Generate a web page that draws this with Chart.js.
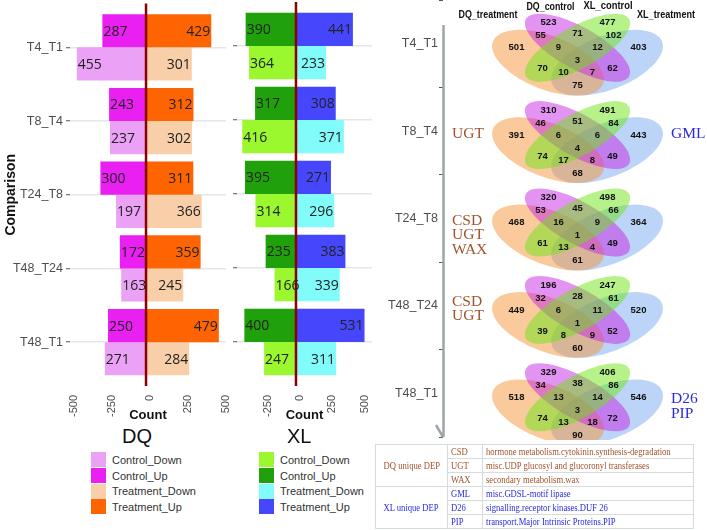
<!DOCTYPE html>
<html>
<head>
<meta charset="utf-8">
<script src="https://cdn.jsdelivr.net/npm/chart.js@4.4.0/dist/chart.umd.min.js"></script>
<style>
  body { margin: 0; width: 707px; height: 530px; position: relative; background: #fff; overflow: hidden; font-family: 'Liberation Sans', Arial, sans-serif; }
  canvas { position: absolute; top: 0; }
  #dq { left: 0; }
  #xl { left: 228px; }
  #venn { left: 380px; }
  .ltitle { position: absolute; top: 425px; font-size: 20px; line-height: 22px; color: #111; }
  .legend { position: absolute; top: 452px; }
  .legend .row { height: 15.7px; display: flex; align-items: center; font-size: 11px; color: #333; }
  .legend .sw { width: 15px; height: 15px; margin-right: 6px; }
  #deps { position: absolute; left: 375px; top: 444px; width: 318px; border-collapse: collapse; table-layout: fixed; font-family: 'Liberation Serif', serif; font-size: 10px; }
  #deps td { border: 1px solid #d6dbdb; padding: 0 3px; height: 13px; line-height: 12px; white-space: nowrap; overflow: hidden; }
  #deps td.grp { text-align: center; padding: 0; }
  #deps .sq { display: inline-block; transform: scaleX(0.86); transform-origin: left center; }
  #deps td.grp .sq { transform-origin: center center; }
</style>
</head>
<body>
<canvas id="dq" width="240" height="425"></canvas>
<canvas id="xl" width="152" height="425"></canvas>
<canvas id="venn" width="327" height="440"></canvas>
<div class="ltitle" style="left:122px">DQ</div>
<div class="ltitle" style="left:287px">XL</div>
<div class="legend" id="dqLegend" style="left:91px"></div>
<div class="legend" id="xlLegend" style="left:259px"></div>
<table id="deps"></table>
<script>
// differentially expressed counts per comparison
const comparisons = ['T4_T1', 'T8_T4', 'T24_T8', 'T48_T24', 'T48_T1'];
const dqControlUp = [287, 243, 300, 172, 250];
const dqTreatmentUp = [429, 312, 311, 359, 479];
const dqControlDown = [455, 237, 197, 163, 271];
const dqTreatmentDown = [301, 302, 366, 245, 284];
const xlControlUp = [390, 317, 395, 235, 400];
const xlTreatmentUp = [441, 308, 271, 383, 531];
const xlControlDown = [364, 416, 314, 166, 247];
const xlTreatmentDown = [233, 371, 296, 339, 311];
const countTicks = [-500, -250, 0, 250, 500];
const legendLabels = ['Control_Down', 'Control_Up', 'Treatment_Down', 'Treatment_Up'];

// venn regions: A=DQ_treatment B=DQ_control C=XL_control D=XL_treatment
const vennSets = ['DQ_treatment', 'DQ_control', 'XL_control', 'XL_treatment'];
const vennRegions = ['A', 'B', 'C', 'D', 'AB', 'BC', 'CD', 'AD', 'ABC', 'BCD', 'ABCD', 'AC', 'BD', 'ACD', 'ABD'];
const venn_T4_T1 = [501, 523, 477, 403, 55, 71, 102, 75, 9, 12, 3, 70, 62, 10, 7];
const venn_T8_T4 = [391, 310, 491, 443, 46, 51, 84, 68, 6, 6, 4, 74, 49, 17, 8];
const venn_T24_T8 = [468, 320, 498, 364, 53, 45, 66, 61, 16, 9, 1, 61, 49, 13, 4];
const venn_T48_T24 = [449, 196, 247, 520, 32, 28, 61, 60, 6, 11, 1, 39, 52, 8, 9];
const venn_T48_T1 = [518, 329, 406, 546, 34, 38, 86, 90, 13, 14, 3, 74, 72, 13, 18];
const vennCounts = [venn_T4_T1, venn_T8_T4, venn_T24_T8, venn_T48_T24, venn_T48_T1];

const dqUniqueByComparison = [[], ['UGT'], ['CSD', 'UGT', 'WAX'], ['CSD', 'UGT'], []];
const xlUniqueByComparison = [[], ['GML'], [], [], ['D26', 'PIP']];
const dqUnique = ['CSD', 'UGT', 'WAX'];
const dqUniqueDesc = ['hormone metabolism.cytokinin.synthesis-degradation', 'misc.UDP glucosyl and glucoronyl transferases', 'secondary metabolism.wax'];
const xlUnique = ['GML', 'D26', 'PIP'];
const xlUniqueDesc = ['misc.GDSL-motif lipase', 'signalling.receptor kinases.DUF 26', 'transport.Major Intrinsic Proteins.PIP'];

const dqColors = { cDown: '#eba2f6', cUp: '#ea1ff1', tDown: '#f9cfa9', tUp: '#fe6502' };
const xlColors = { cDown: '#9bf72e', cUp: '#20a00a', tDown: '#82fbfb', tUp: '#4646fd' };
const brown = '#a0522d';
const blue = '#2a2ae0';

const zeroLine = {
  id: 'zeroLine',
  afterDatasetsDraw(chart) {
    const { ctx, chartArea, scales } = chart;
    const x = scales.x.getPixelForValue(0);
    ctx.save();
    ctx.strokeStyle = '#8b0000';
    ctx.lineWidth = 2.5;
    ctx.beginPath();
    ctx.moveTo(x, chartArea.top - 7);
    ctx.lineTo(x, chartArea.bottom + 7);
    ctx.stroke();
    ctx.restore();
  }
};

const barLabels = {
  id: 'barLabels',
  afterDatasetsDraw(chart) {
    const ctx = chart.ctx;
    ctx.save();
    ctx.font = '14px "Open Sans"';
    ctx.fillStyle = '#222';
    ctx.textBaseline = 'middle';
    chart.data.datasets.forEach((ds, i) => {
      chart.getDatasetMeta(i).data.forEach((bar, j) => {
        const v = ds.data[j];
        ctx.textAlign = v < 0 ? 'left' : 'right';
        ctx.fillText(Math.abs(v), bar.x + (v < 0 ? 1 : -1), bar.y + 1);
      });
    });
    ctx.restore();
  }
};

function divergingChart(id, c, cUp, tUp, cDown, tDown, xMin, xMax, first) {
  return new Chart(document.getElementById(id), {
    type: 'bar',
    data: {
      labels: comparisons,
      datasets: [
        { label: 'Control_Up', data: cUp.map(v => -v), backgroundColor: c.cUp, stack: 'up' },
        { label: 'Treatment_Up', data: tUp, backgroundColor: c.tUp, stack: 'up' },
        { label: 'Control_Down', data: cDown.map(v => -v), backgroundColor: c.cDown, stack: 'down' },
        { label: 'Treatment_Down', data: tDown, backgroundColor: c.tDown, stack: 'down' }
      ]
    },
    options: {
      indexAxis: 'y',
      responsive: false,
      animation: false,
      layout: { padding: { top: 9, right: first ? 14 : 8, left: 0, bottom: 0 } },
      datasets: { bar: { barPercentage: 1, categoryPercentage: 0.9 } },
      plugins: { legend: { display: false }, tooltip: { enabled: false } },
      scales: {
        x: {
          stacked: true,
          min: xMin,
          max: xMax,
          afterBuildTicks: s => { s.ticks = countTicks.filter(v => v >= s.min && v <= s.max).map(v => ({ value: v })); },
          afterFit: s => { s.height = 46; s.paddingLeft = 0; s.paddingRight = 0; },
          grid: { display: false },
          border: { display: false },
          ticks: { minRotation: 90, maxRotation: 90, padding: 8, labelOffset: 4,
                   color: '#4d4d4d', font: { family: 'Liberation Sans', size: 11 } },
          title: { display: true, text: 'Count', color: '#111', padding: { top: 0, bottom: 2 },
                   font: { family: 'Liberation Sans', size: 13, weight: 'bold' } }
        },
        y: {
          stacked: true,
          afterFit: s => { s.width = first ? 70 : 9; },
          grid: { offset: false, color: '#e3e7e7', lineWidth: 1.5, tickLength: 4, tickColor: '#555', tickWidth: 1 },
          border: { display: false },
          ticks: { display: first, padding: 3, color: '#4d4d4d', font: { family: 'Liberation Sans', size: 12.5 } },
          title: { display: first, text: 'Comparison', color: '#111', padding: { top: 3, bottom: 0 },
                   font: { family: 'Liberation Sans', size: 14, weight: 'bold' } }
        }
      }
    },
    plugins: [zeroLine, barLabels]
  });
}

divergingChart('dq', dqColors, dqControlUp, dqTreatmentUp, dqControlDown, dqTreatmentDown, -500, 526, true);
divergingChart('xl', xlColors, xlControlUp, xlTreatmentUp, xlControlDown, xlTreatmentDown, -457, 589, false);

// venn layout, relative to the centre of each diagram
const ellipses = [
  { dx: 29.5, dy: 2, rx: 59, ry: 27, rot: -21, fill: 'rgba(120,170,240,0.5)' },
  { dx: -29.5, dy: 2, rx: 59, ry: 27, rot: 21, fill: 'rgba(245,150,60,0.5)' },
  { dx: 0, dy: -13, rx: 59, ry: 21, rot: 29, fill: 'rgba(200,40,230,0.5)' },
  { dx: 0, dy: -13, rx: 59, ry: 21, rot: -29, fill: 'rgba(110,230,20,0.5)' }
];
const regionPos = {
  A: [-61, -13], B: [-29, -38], C: [30, -38], D: [61, -13],
  AB: [-37, -25], BC: [0, -27], CD: [36, -25], AD: [0, 25],
  ABC: [-19, -13], BCD: [20, -13], ABCD: [0, 0],
  AC: [-35, 8], BD: [35, 8], ACD: [-14, 12], ABD: [15, 12]
};
const setTitlePos = [[-89.5, -46, 59], [-27, -54, 48], [30.5, -55, 49], [88.5, -46, 58]];

const vennPlugin = {
  id: 'venn',
  afterDraw(chart) {
    const { ctx, chartArea, scales } = chart;
    const cx = chartArea.left + 134.5;
    ctx.save();
    // axis line with arrow
    ctx.strokeStyle = '#9ea5a8';
    ctx.lineWidth = 2.5;
    ctx.beginPath();
    ctx.moveTo(chartArea.left + 0.5, 25);
    ctx.lineTo(chartArea.left + 0.5, chartArea.bottom);
    ctx.moveTo(chartArea.left - 7, chartArea.bottom - 12);
    ctx.lineTo(chartArea.left, chartArea.bottom);
    ctx.stroke();

    comparisons.forEach((name, i) => {
      const tick = scales.y.getPixelForValue(i);
      const cy = tick + 17;
      ellipses.forEach(e => {
        ctx.fillStyle = e.fill;
        ctx.beginPath();
        ctx.ellipse(cx + e.dx, cy + e.dy, e.rx, e.ry, e.rot * Math.PI / 180, 0, Math.PI * 2);
        ctx.fill();
      });
      ctx.fillStyle = '#111';
      ctx.font = 'bold 9.5px "Liberation Sans"';
      ctx.textAlign = 'center';
      ctx.textBaseline = 'middle';
      vennRegions.forEach((r, k) => {
        const p = regionPos[r];
        ctx.fillText(vennCounts[i][k], cx + p[0], cy + p[1]);
      });
      if (i === 0) {
        ctx.font = 'bold 11px "Liberation Sans"';
        vennSets.forEach((s, k) => {
          const p = setTitlePos[k];
          ctx.fillText(s, cx + p[0], cy + p[1], p[2]);
        });
      }
      // unique DEP annotations
      ctx.font = '15.5px "Liberation Serif"';
      ctx.textAlign = 'left';
      const dq = dqUniqueByComparison[i];
      const dqTop = tick + (dq.length === 3 ? 2 : dq.length === 2 ? -4 : 3);
      ctx.fillStyle = brown;
      dq.forEach((t, k) => ctx.fillText(t, chartArea.left + 9, dqTop + k * 14.5));
      const xl = xlUniqueByComparison[i];
      const xlTop = tick + (xl.length === 2 ? 6 : 3);
      ctx.fillStyle = blue;
      xl.forEach((t, k) => ctx.fillText(t, chartArea.left + 228, xlTop + k * 14.5));
    });
    ctx.restore();
  }
};

new Chart(document.getElementById('venn'), {
  type: 'bar',
  data: { labels: comparisons, datasets: [{ data: [] }] },
  options: {
    indexAxis: 'y',
    responsive: false,
    animation: false,
    layout: { padding: { top: 0, bottom: 3, left: 0, right: 0 } },
    plugins: { legend: { display: false }, tooltip: { enabled: false } },
    scales: {
      x: { display: false, min: 0, max: 1 },
      y: {
        afterFit: s => { s.width = 63; s.paddingTop = 0; s.paddingBottom = 0; },
        grid: { drawOnChartArea: false, tickLength: 4, tickColor: '#555' },
        border: { display: false },
        ticks: { padding: 1, color: '#4d4d4d', font: { family: 'Liberation Sans', size: 12.5 } }
      }
    }
  },
  plugins: [vennPlugin]
});

// legends
function buildLegend(id, c) {
  const cols = [c.cDown, c.cUp, c.tDown, c.tUp];
  document.getElementById(id).innerHTML = legendLabels
    .map((l, i) => `<div class="row"><span class="sw" style="background:${cols[i]}"></span>${l}</div>`)
    .join('');
}
buildLegend('dqLegend', dqColors);
buildLegend('xlLegend', xlColors);

// unique DEP table
function groupRows(name, codes, descs, color) {
  return codes.map((code, i) => {
    const first = i === 0 ? `<td class="grp" rowspan="${codes.length}"><span class="sq">${name}</span></td>` : '';
    return `<tr style="color:${color}">${first}<td><span class="sq">${code}</span></td><td><span class="sq">${descs[i]}</span></td></tr>`;
  }).join('');
}
document.getElementById('deps').innerHTML =
  '<colgroup><col style="width:72px"><col style="width:35px"><col style="width:211px"></colgroup><tbody>' +
  groupRows('DQ unique DEP', dqUnique, dqUniqueDesc, brown) +
  groupRows('XL unique DEP', xlUnique, xlUniqueDesc, blue) + '</tbody>';
</script>
</body>
</html>
